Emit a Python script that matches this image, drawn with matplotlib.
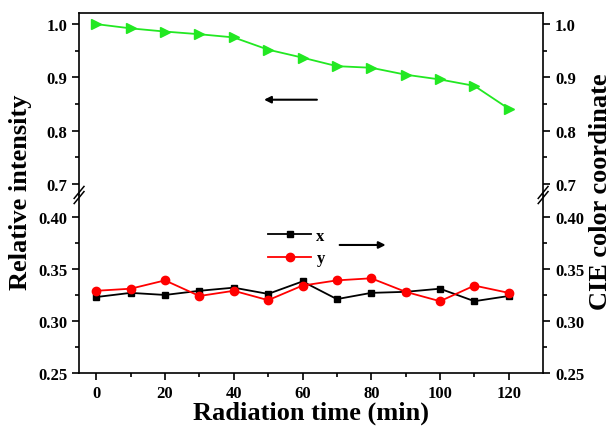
import matplotlib
matplotlib.use("Agg")
import matplotlib.pyplot as plt

# data
time = [0, 10, 20, 30, 40, 50, 60, 70, 80, 90, 100, 110, 120]
intensity = [1.0, 0.992, 0.986, 0.981, 0.975, 0.952, 0.937, 0.921, 0.918, 0.905,
             0.896, 0.884, 0.841]
cie_x = [0.323, 0.327, 0.325, 0.329, 0.332, 0.326, 0.338, 0.321, 0.327, 0.328,
         0.331, 0.319, 0.324]
cie_y = [0.329, 0.331, 0.339, 0.324, 0.329, 0.320, 0.334, 0.339, 0.341, 0.328,
         0.319, 0.334, 0.327]
top_ticks = [0.7, 0.8, 0.9, 1.0]
bot_ticks = [0.25, 0.30, 0.35, 0.40]

plt.rcParams["font.family"] = "Liberation Serif"
plt.rcParams["font.weight"] = "bold"

fig = plt.figure(figsize=(6.13, 4.27), dpi=100)
L, R = 0.129, 0.886
mid, bot, top = 0.541, 0.124, 0.967
ax1 = fig.add_axes([L, mid, R - L, top - mid])
ax2 = fig.add_axes([L, bot, R - L, mid - bot])

ax1.plot(time, intensity, "-", color="#22e822", marker=">", ms=7, lw=1.3)
ax2.plot(time, cie_x, "-", color="black", marker="s", ms=5, lw=1.3, label="x")
ax2.plot(time, cie_y, "-", color="red", marker="o", ms=6, lw=1.3, label="y")

ax1.set_ylim(0.679, 1.0207)
ax2.set_ylim(0.25, 0.421)
for ax in (ax1, ax2):
    ax.set_xlim(-5, 130)
    ax.tick_params(direction="out", which="both", right=True, labelright=True,
                   labelsize=12, width=1.2)
    ax.tick_params(which="major", length=5)
    ax.tick_params(which="minor", length=3)
    for s in ax.spines.values():
        s.set_linewidth(1.2)

ax1.set_yticks(top_ticks)
ax1.set_yticklabels(["%.1f" % v for v in top_ticks])
ax1.set_yticks([0.75, 0.85, 0.95], minor=True)
ax1.spines["bottom"].set_visible(False)
ax1.tick_params(axis="x", which="both", bottom=False, labelbottom=False)

ax2.set_yticks(bot_ticks)
ax2.set_yticklabels(["%.2f" % v for v in bot_ticks])
ax2.set_yticks([0.275, 0.325, 0.375], minor=True)
ax2.spines["top"].set_visible(False)
ax2.set_xticks(range(0, 121, 20))
ax2.set_xticks(range(10, 121, 20), minor=True)

# break marks
for xf in (L, R):
    for dy in (-0.006, 0.006):
        fig.add_artist(plt.Line2D([xf - 0.008, xf + 0.008],
                                  [mid + dy - 0.014, mid + dy + 0.014],
                                  color="black", lw=1.1, transform=fig.transFigure))

# arrows
ax1.annotate("", xy=(48, 0.858), xytext=(65, 0.858),
             arrowprops=dict(arrowstyle="-|>", color="black", lw=1.5))
ax2.annotate("", xy=(85, 0.373), xytext=(70, 0.373),
             arrowprops=dict(arrowstyle="-|>", color="black", lw=1.5))

ax2.legend(loc="upper left", bbox_to_anchor=(0.375, 0.9), frameon=False,
           handlelength=2.6, fontsize=12, labelspacing=0.4, handletextpad=0.3)

fig.text(0.034, 0.55, "Relative intensity", rotation=90, ha="center", va="center",
         fontsize=19, fontweight="bold")
fig.text(0.98, 0.55, "CIE color coordinate", rotation=90, ha="center", va="center",
         fontsize=19, fontweight="bold")
fig.text((L + R) / 2, 0.033, "Radiation time (min)", ha="center", va="center",
         fontsize=19, fontweight="bold")

fig.savefig("out.png", dpi=100)
